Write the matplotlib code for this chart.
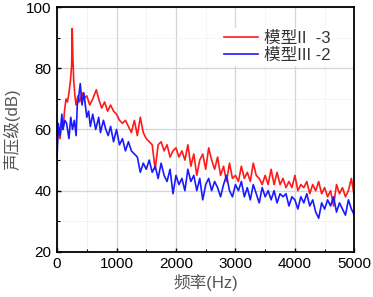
import matplotlib.pyplot as plt
from matplotlib.ticker import MultipleLocator

plt.rcParams['font.family'] = ['Liberation Sans', 'Noto Sans CJK SC', 'DejaVu Sans']

# 模型II-3 (red)
f_red = [0, 25, 50, 75, 100, 125, 150, 175, 200, 225, 245, 255, 265, 280, 300,
         320, 350, 380, 420, 450, 500, 550, 600, 660, 700, 750, 800, 850, 900,
         950, 1000, 1050, 1100, 1150, 1200, 1250, 1300, 1350, 1400, 1450, 1500,
         1550, 1600, 1650, 1700, 1750, 1800, 1850, 1900, 1950, 2000, 2050, 2100,
         2150, 2200, 2250, 2300, 2350, 2400, 2450, 2500, 2550, 2600, 2650, 2700,
         2750, 2800, 2850, 2900, 2950, 3000, 3050, 3100, 3150, 3200, 3250, 3300,
         3350, 3400, 3450, 3500, 3550, 3600, 3650, 3700, 3750, 3800, 3850, 3900,
         3950, 4000, 4050, 4100, 4150, 4200, 4250, 4300, 4350, 4400, 4450, 4500,
         4550, 4600, 4650, 4700, 4750, 4800, 4850, 4900, 4950, 5000]
db_red = [55, 60, 57, 62, 60, 66, 70, 69, 72, 76, 81, 93, 84, 76, 71,
          68, 71, 69, 72, 70, 71, 68, 70, 73, 70, 67, 69, 66, 68,
          66, 65, 63, 62, 63, 61, 59, 63, 58, 64, 59, 57, 56, 55, 47, 55,
          56, 53, 55, 51, 53, 54, 51, 53, 50, 55, 48, 52, 45, 50, 52, 47,
          54, 50, 47, 51, 45, 48, 43, 49, 44, 45, 43, 48, 44, 46, 43, 49,
          45, 44, 42, 45, 42, 47, 42, 46, 42, 44, 41, 43, 41, 45, 40, 42,
          41, 43, 39, 42, 40, 43, 39, 41, 38, 40, 35, 42, 39, 41, 38, 40,
          44, 38]

# 模型III-2 (blue)
f_blue = [0, 20, 50, 80, 100, 130, 160, 200, 230, 260, 290, 320, 340, 360, 390,
          420, 450, 500, 530, 560, 600, 650, 700, 730, 780, 820, 860, 900, 950,
          1000, 1050, 1100, 1150, 1200, 1250, 1300, 1350, 1400, 1450, 1500,
          1550, 1600, 1650, 1700, 1750, 1800, 1850, 1900, 1950, 2000, 2050,
          2100, 2150, 2200, 2250, 2300, 2350, 2400, 2450, 2500, 2550, 2600,
          2650, 2700, 2750, 2800, 2850, 2900, 2950, 3000, 3050, 3100, 3150,
          3200, 3250, 3300, 3350, 3400, 3450, 3500, 3550, 3600, 3650, 3700,
          3750, 3800, 3850, 3900, 3950, 4000, 4050, 4100, 4150, 4200, 4250,
          4300, 4350, 4400, 4450, 4500, 4550, 4600, 4650, 4700, 4750, 4800,
          4850, 4900, 4950, 5000]
db_blue = [51, 62, 58, 65, 60, 63, 62, 57, 64, 60, 63, 58, 68, 70, 75,
           68, 72, 64, 66, 61, 65, 60, 64, 59, 63, 60, 58, 61, 56,
           60, 55, 57, 53, 56, 53, 52, 51, 46, 49, 47, 50, 46, 48, 44, 49,
           45, 43, 47, 39, 45, 42, 44, 40, 47, 43, 45, 40, 44, 37, 42, 44,
           40, 43, 41, 38, 42, 45, 40, 38, 42, 40, 43, 38, 41, 37, 42, 39,
           36, 41, 38, 40, 37, 40, 36, 39, 38, 39, 35, 38, 37, 34, 38, 36,
           39, 35, 37, 33, 31, 36, 34, 37, 35, 38, 33, 36, 34, 32, 37, 34,
           32]

fig = plt.figure(figsize=(3.73, 2.97), dpi=100)
ax = fig.add_axes([0.153, 0.152, 0.797, 0.824])

ax.plot(f_red, db_red, color='#ff1a1a', lw=1.2, label='模型II  -3')
ax.plot(f_blue, db_blue, color='#1a1aff', lw=1.2, label='模型III -2')

ax.set_xlim(0, 5000)
ax.set_ylim(20, 100)
ax.xaxis.set_major_locator(MultipleLocator(1000))
ax.xaxis.set_minor_locator(MultipleLocator(500))
ax.yaxis.set_major_locator(MultipleLocator(20))
ax.yaxis.set_minor_locator(MultipleLocator(10))
ax.grid(which='major', color='#d4d4d4', lw=0.9)
ax.grid(which='minor', color='#e4e4e4', lw=0.7, ls=':')
ax.set_axisbelow(True)
ax.tick_params(which='both', direction='in', labelsize=11, colors='black')
ax.tick_params(which='major', length=3, width=1, pad=4)
ax.tick_params(which='minor', length=2, width=0.8)
for s in ax.spines.values():
    s.set_linewidth(1.3)

ax.set_xlabel('频率(Hz)', fontsize=12, color='#555555', labelpad=2)
ax.set_ylabel('声压级(dB)', fontsize=12, color='#555555', labelpad=4)

leg = ax.legend(loc='upper right', bbox_to_anchor=(0.96, 0.95), frameon=True,
                fontsize=12, handlelength=2.0, handletextpad=0.4,
                borderpad=0.2, labelspacing=0.1, edgecolor='none',
                framealpha=1, fancybox=False)
for t in leg.get_texts():
    t.set_color('#333333')

fig.savefig('out.png', dpi=100)
